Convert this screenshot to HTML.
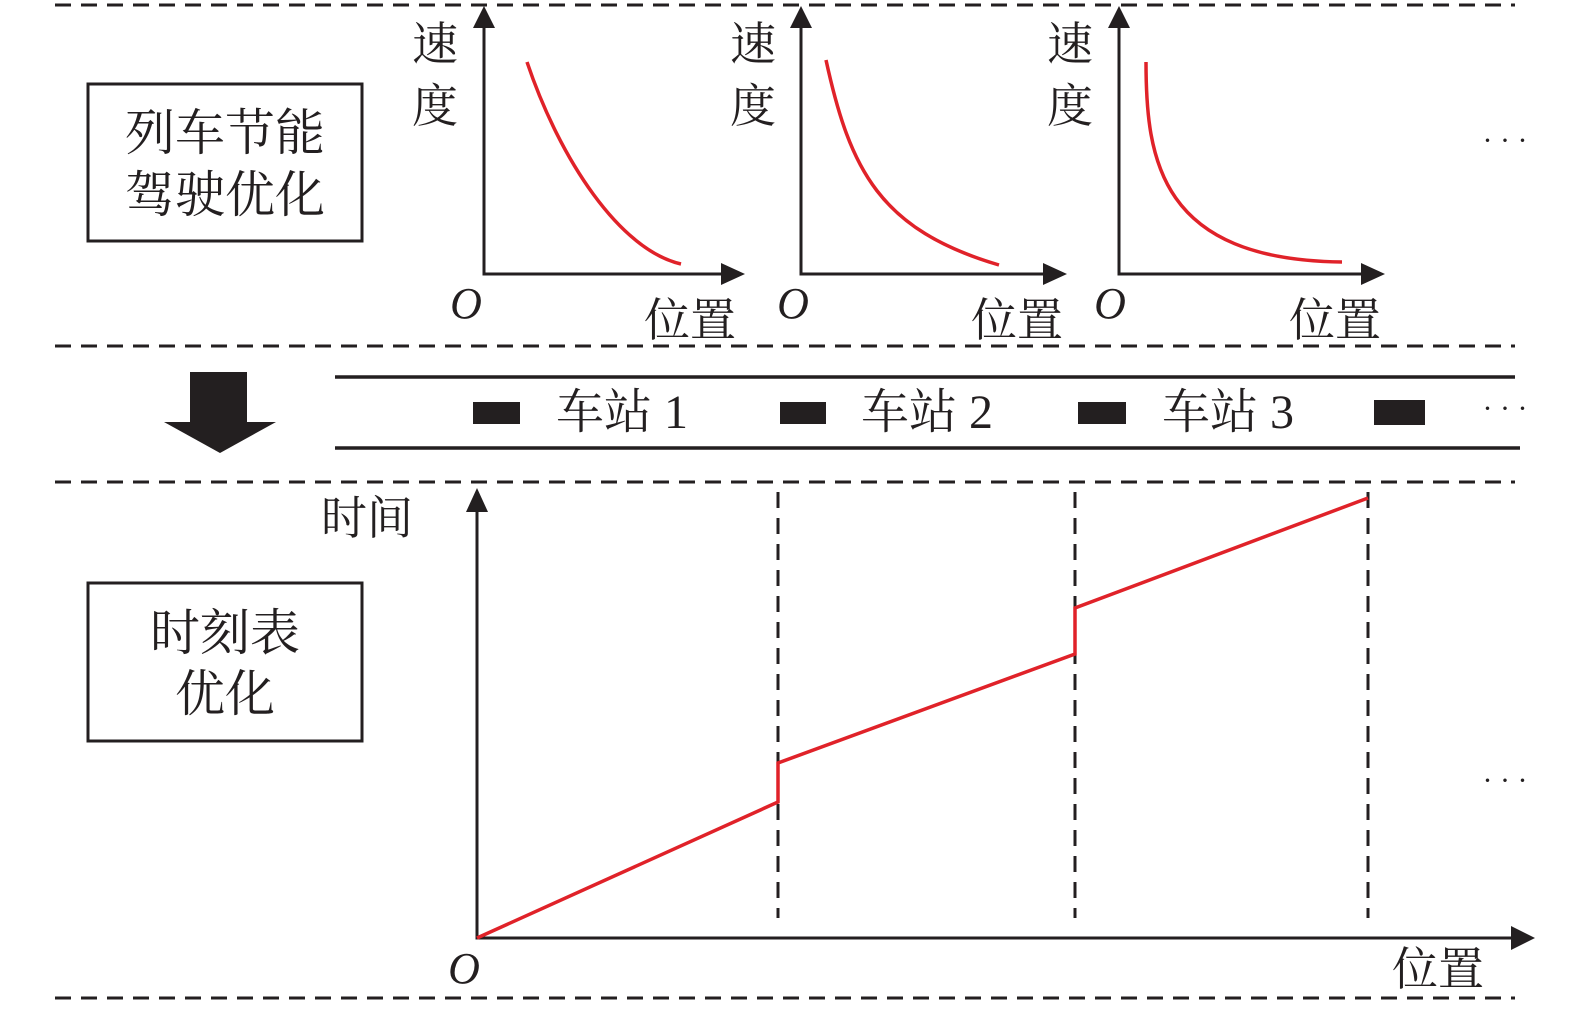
<!DOCTYPE html>
<html><head><meta charset="utf-8"><style>
html,body{margin:0;padding:0;background:#fff;}
svg{display:block;}
text{font-family:"Liberation Serif","Noto Serif CJK SC",serif;fill:#231f20;}
</style></head><body>
<svg width="1575" height="1010" viewBox="0 0 1575 1010" xmlns="http://www.w3.org/2000/svg">
<defs>
<marker id="ah" markerWidth="10" markerHeight="10" refX="9" refY="5" orient="auto" markerUnits="userSpaceOnUse" viewBox="0 0 10 10">
</marker>
</defs>
<g stroke="#231f20" stroke-width="3" stroke-dasharray="16 10" fill="none">
<line x1="55" y1="5" x2="1515" y2="5"/>
<line x1="55" y1="346" x2="1515" y2="346"/>
<line x1="55" y1="482" x2="1515" y2="482"/>
<line x1="55" y1="998" x2="1515" y2="998"/>
</g>
<g fill="none" stroke="#231f20" stroke-width="3">
<rect x="88" y="84" width="274" height="157"/>
<rect x="88" y="583" width="274" height="158"/>
</g>
<text x="225" y="150" font-size="50" text-anchor="middle">列车节能</text>
<text x="225" y="212" font-size="50" text-anchor="middle">驾驶优化</text>
<text x="225" y="650" font-size="50" text-anchor="middle">时刻表</text>
<text x="225" y="711" font-size="50" text-anchor="middle">优化</text>

<!-- speed graphs -->
<g stroke="#231f20" stroke-width="3" fill="none">
<polyline points="484,26 484,274 726,274"/>
<polyline points="801,26 801,274 1048,274"/>
<polyline points="1119,26 1119,274 1366,274"/>
</g>
<g fill="#231f20">
<polygon points="484,6 473,28 495,28"/>
<polygon points="745,274 721,263 721,285"/>
<polygon points="801,6 790,28 812,28"/>
<polygon points="1067,274 1043,263 1043,285"/>
<polygon points="1119,6 1108,28 1130,28"/>
<polygon points="1385,274 1361,263 1361,285"/>
</g>
<g stroke="#e02229" stroke-width="3.5" fill="none">
<path d="M527,62 C560,160 620,250 681,264"/>
<path d="M826,60 C850,170 880,230 999,265"/>
<path d="M1146,62 C1146,160 1160,260 1342,262"/>
</g>
<g font-size="46">
<text x="435" y="60" text-anchor="middle">速</text>
<text x="435" y="122" text-anchor="middle">度</text>
<text x="753" y="60" text-anchor="middle">速</text>
<text x="753" y="122" text-anchor="middle">度</text>
<text x="1070" y="60" text-anchor="middle">速</text>
<text x="1070" y="122" text-anchor="middle">度</text>
<text x="690" y="336" text-anchor="middle">位置</text>
<text x="1017" y="336" text-anchor="middle">位置</text>
<text x="1335" y="336" text-anchor="middle">位置</text>
</g>
<g font-size="44" font-style="italic">
<text x="466" y="318" text-anchor="middle">O</text>
<text x="793" y="318" text-anchor="middle">O</text>
<text x="1110" y="318" text-anchor="middle">O</text>
<text x="464" y="983" text-anchor="middle">O</text>
</g>
<text x="1505" y="150" font-size="30" text-anchor="middle">· · ·</text>
<text x="1505" y="418" font-size="30" text-anchor="middle">· · ·</text>
<text x="1505" y="790" font-size="30" text-anchor="middle">· · ·</text>

<!-- down arrow -->
<rect x="190" y="372" width="57" height="51" fill="#231f20"/>
<polygon points="164,422 276,422 220,453" fill="#231f20"/>

<!-- rails -->
<g stroke="#231f20" stroke-width="3.5">
<line x1="335" y1="377" x2="1515" y2="377"/>
<line x1="335" y1="448" x2="1520" y2="448"/>
</g>
<g fill="#231f20">
<rect x="473" y="402" width="47" height="22"/>
<rect x="780" y="402" width="46" height="22"/>
<rect x="1078" y="402" width="48" height="22"/>
<rect x="1374" y="400" width="51" height="25"/>
</g>
<g font-size="48">
<text x="622" y="428" text-anchor="middle">车站 1</text>
<text x="927" y="428" text-anchor="middle">车站 2</text>
<text x="1228" y="428" text-anchor="middle">车站 3</text>
</g>

<!-- bottom graph -->
<g stroke="#231f20" stroke-width="3" fill="none">
<polyline points="477,508 477,938 1515,938"/>
</g>
<g fill="#231f20">
<polygon points="477,488 466,512 488,512"/>
<polygon points="1535,938 1511,926 1511,950"/>
</g>
<g stroke="#231f20" stroke-width="3" stroke-dasharray="16 10" fill="none">
<line x1="778" y1="492" x2="778" y2="918"/>
<line x1="1075" y1="492" x2="1075" y2="918"/>
<line x1="1368" y1="492" x2="1368" y2="918"/>
</g>
<polyline points="477,938 778,802 778,763 1075,654 1075,608 1368,498" fill="none" stroke="#e02229" stroke-width="3.5"/>
<text x="367" y="534" font-size="46" text-anchor="middle">时间</text>
<text x="1438" y="985" font-size="46" text-anchor="middle">位置</text>
</svg>
</body></html>
